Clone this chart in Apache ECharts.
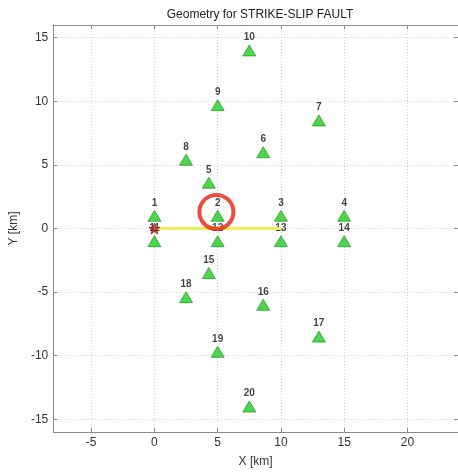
<!DOCTYPE html>
<html>
<head>
<meta charset="utf-8">
<script src="https://cdn.jsdelivr.net/npm/echarts@6/dist/echarts.min.js"></script>
<style>
  html, body {margin: 0; padding: 0; background: #fff;}
  #chart {width: 458px; height: 473px;}
</style>
</head>
<body>
<div id="chart"></div>
<script>
// stations
let stationIds = ['1', '2', '3', '4', '5', '6', '7', '8', '9', '10',
    '11', '12', '13', '14', '15', '16', '17', '18', '19', '20'];
let stationX = [0, 5, 10, 15, 4.3, 8.6, 13, 2.5, 5, 7.5,
    0, 5, 10, 15, 4.3, 8.6, 13, 2.5, 5, 7.5];
let stationY = [1, 1, 1, 1, 3.6, 6, 8.5, 5.4, 9.7, 14,
    -1, -1, -1, -1, -3.5, -6, -8.5, -5.4, -9.7, -14];
let faultTrace = [[0, 0], [10, 0]];
let epicenter = [[0, 0]];
let highlight = [[4.9, 1.3]]; // red ring round station 2
let xTicks = [-5, 0, 5, 10, 15, 20];
let yTicks = [-15, -10, -5, 0, 5, 10, 15];

let starPath = 'path://M50,0 L61.8,35.1 L97.6,34.5 L69.1,56.9 L79.4,90.5 L50,70 L20.6,90.5 L30.9,56.9 L2.4,34.5 L38.2,35.1 Z';

let myChart = echarts.init(document.getElementById('chart'));

let axisLine = {onZero: false, lineStyle: {color: '#8a8a8a', width: 1}};
let tick = {inside: true, length: 4, lineStyle: {color: '#8a8a8a'}};
let grid = {lineStyle: {color: '#cfcfcf', type: [1, 2], width: 1}};
let labelFont = {fontFamily: 'Liberation Sans', fontSize: 12, color: '#333'};

let stations = stationIds.map((id, i) => ({name: id, value: [stationX[i], stationY[i]]}));

myChart.setOption({
    animation: false,
    title: {
        text: 'Geometry for STRIKE-SLIP FAULT',
        left: 255,
        textAlign: 'center',
        top: 4,
        textStyle: {fontFamily: 'Liberation Sans', fontSize: 12, fontWeight: 'normal', color: '#222'}
    },
    grid: {left: 49, top: 25, width: 413, height: 412},
    xAxis: [{
        type: 'value', min: -8, max: 24,
        name: 'X [km]', nameLocation: 'middle', nameGap: 24,
        nameTextStyle: labelFont,
        axisLine: axisLine,
        axisTick: Object.assign({customValues: xTicks}, tick),
        axisLabel: Object.assign({customValues: xTicks, margin: 5}, labelFont),
        splitLine: Object.assign({show: true}, grid)
    }, {
        type: 'value', min: -8, max: 24, position: 'top',
        axisLine: axisLine,
        axisTick: Object.assign({customValues: xTicks}, tick),
        axisLabel: {show: false},
        splitLine: {show: false}
    }],
    yAxis: [{
        type: 'value', min: -16, max: 16,
        name: 'Y [km]', nameLocation: 'middle', nameGap: 29,
        nameTextStyle: labelFont,
        axisLine: axisLine,
        axisTick: Object.assign({customValues: yTicks}, tick),
        axisLabel: Object.assign({customValues: yTicks, margin: 5}, labelFont),
        splitLine: Object.assign({show: true}, grid)
    }, {
        type: 'value', min: -16, max: 16, position: 'right',
        axisLine: axisLine,
        axisTick: Object.assign({customValues: yTicks}, tick),
        axisLabel: {show: false},
        splitLine: {show: false}
    }],
    series: [
        {
            type: 'scatter',
            data: stations,
            symbol: 'triangle',
            symbolSize: [13, 11],
            itemStyle: {color: '#1fcc1f', borderColor: '#168a16', borderWidth: 0.8},
            label: {
                show: true,
                formatter: '{b}',
                position: 'top',
                distance: 2,
                fontFamily: 'Liberation Sans',
                fontSize: 10,
                fontWeight: 'bold',
                color: '#111'
            },
            z: 2
        },
        {
            type: 'line',
            data: faultTrace,
            symbol: 'none',
            lineStyle: {color: '#f2ee5a', width: 3},
            z: 10
        },
        {
            type: 'scatter',
            data: epicenter,
            symbol: starPath,
            symbolSize: 11,
            itemStyle: {color: '#c8161d', borderColor: '#5a1010', borderWidth: 0.8},
            z: 11
        },
        {
            type: 'scatter',
            data: highlight,
            symbol: 'circle',
            symbolSize: 34,
            itemStyle: {color: 'rgba(0,0,0,0)', borderColor: '#e8200f', borderWidth: 4},
            z: 12
        }
    ]
});
</script>
</body>
</html>
